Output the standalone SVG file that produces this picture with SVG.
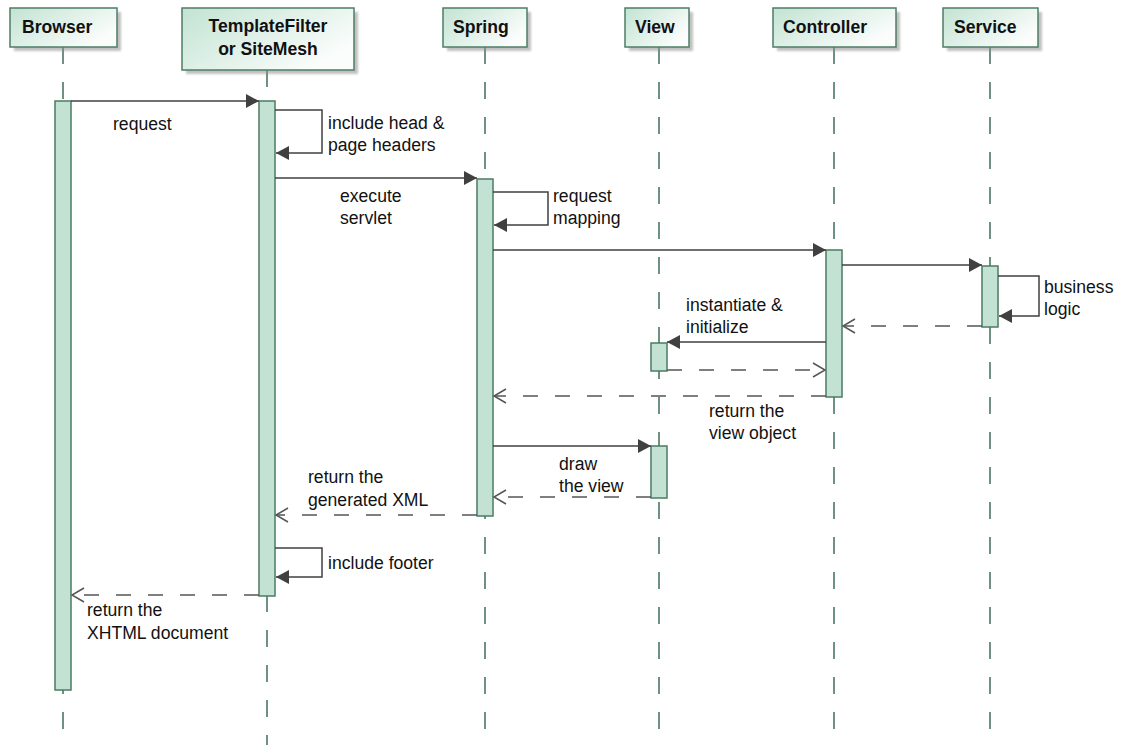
<svg xmlns="http://www.w3.org/2000/svg" width="1124" height="745" viewBox="0 0 1124 745">
<style>
text{font-family:"Liberation Sans",Arial,sans-serif;font-size:17.6px;fill:#111}
.hd{font-weight:bold}
.box{fill:url(#hg);stroke:#4e7d66;stroke-width:1.5}
.shd{fill:#8f8f8f;opacity:.55;filter:url(#bl)}
.life{stroke:#3f6f58;stroke-width:1.5;stroke-dasharray:17 18;fill:none}
.act{fill:#c3e2d3;stroke:#4a7c63;stroke-width:1.5}
.msg{stroke:#404040;stroke-width:1.5;fill:none;marker-end:url(#fa)}
.ret{stroke:#555;stroke-width:1.5;fill:none;stroke-dasharray:15 17;marker-end:url(#oa)}
</style>
<defs>
<linearGradient id="hg" x1="0" y1="0" x2="1" y2="0.6">
<stop offset="0" stop-color="#c2e3d3"/>
<stop offset="1" stop-color="#fbfdfc"/>
</linearGradient>
<filter id="bl" x="-10%" y="-10%" width="120%" height="130%"><feGaussianBlur stdDeviation="1.2"/></filter>
<marker id="fa" markerUnits="userSpaceOnUse" markerWidth="14" markerHeight="14" refX="13" refY="7" orient="auto">
<path d="M0,0 L13,7 L0,14 Z" fill="#404040" stroke="none"/>
</marker>
<marker id="oa" markerUnits="userSpaceOnUse" markerWidth="16" markerHeight="16" refX="13" refY="8" orient="auto">
<path d="M1,1 L13,8 L1,15" fill="none" stroke="#555" stroke-width="1.5" stroke-dasharray="none"/>
</marker>
</defs>
<rect width="1124" height="745" fill="#fff"/>

<g id="browser">
<line class="life" x1="63" y1="47" x2="63" y2="730"/>
<rect class="shd" x="14" y="12" width="107" height="39"/>
<rect class="box" x="10" y="8" width="107" height="39"/>
<text class="hd" x="22" y="33">Browser</text>
<rect class="act" x="55" y="101" width="16" height="589"/>
</g>

<g id="templatefilter">
<line class="life" x1="267" y1="70" x2="267" y2="753"/>
<rect class="shd" x="186" y="12" width="172" height="62"/>
<rect class="box" x="182" y="8" width="172" height="62"/>
<text class="hd" x="268" y="32" text-anchor="middle">TemplateFilter</text>
<text class="hd" x="268" y="55" text-anchor="middle">or SiteMesh</text>
<rect class="act" x="259" y="101" width="16" height="495"/>
</g>

<g id="spring">
<line class="life" x1="485" y1="47" x2="485" y2="730"/>
<rect class="shd" x="447" y="12" width="84" height="39"/>
<rect class="box" x="443" y="8" width="84" height="39"/>
<text class="hd" x="453" y="33">Spring</text>
<rect class="act" x="477" y="179" width="16" height="337"/>
</g>

<g id="view">
<line class="life" x1="659" y1="47" x2="659" y2="730"/>
<rect class="shd" x="629" y="12" width="64" height="39"/>
<rect class="box" x="625" y="8" width="64" height="39"/>
<text class="hd" x="635" y="33">View</text>
<rect class="act" x="651" y="343" width="16" height="28"/>
<rect class="act" x="651" y="446" width="16" height="52"/>
</g>

<g id="controller">
<line class="life" x1="834" y1="47" x2="834" y2="730"/>
<rect class="shd" x="777" y="12" width="123" height="39"/>
<rect class="box" x="773" y="8" width="123" height="39"/>
<text class="hd" x="783" y="33">Controller</text>
<rect class="act" x="826" y="250" width="16" height="147"/>
</g>

<g id="service">
<line class="life" x1="990" y1="47" x2="990" y2="730"/>
<rect class="shd" x="947" y="12" width="95" height="39"/>
<rect class="box" x="943" y="8" width="95" height="39"/>
<text class="hd" x="954" y="33">Service</text>
<rect class="act" x="982" y="266" width="16" height="61"/>
</g>

<g id="connectors">
<line class="msg" x1="71" y1="101" x2="259" y2="101"/>
<text x="113" y="130">request</text>

<polyline class="msg" points="275,110 322,110 322,153 276,153"/>
<text x="328" y="129">include head &amp;</text>
<text x="328" y="151">page headers</text>

<line class="msg" x1="275" y1="178" x2="477" y2="178"/>
<text x="340" y="202">execute</text>
<text x="340" y="224">servlet</text>

<polyline class="msg" points="493,192 548,192 548,225 494,225"/>
<text x="553" y="202">request</text>
<text x="553" y="224">mapping</text>

<line class="msg" x1="493" y1="250" x2="826" y2="250"/>

<line class="msg" x1="842" y1="265" x2="982" y2="265"/>

<polyline class="msg" points="998,276 1039,276 1039,316 999,316"/>
<text x="1044" y="293">business</text>
<text x="1044" y="315">logic</text>

<line class="ret" x1="982" y1="326" x2="843" y2="326"/>

<line class="msg" x1="826" y1="342" x2="667" y2="342"/>
<text x="686" y="311">instantiate &amp;</text>
<text x="686" y="333">initialize</text>

<line class="ret" x1="667" y1="370" x2="825" y2="370"/>

<line class="ret" x1="826" y1="396" x2="494" y2="396"/>
<text x="709" y="417">return the</text>
<text x="709" y="439">view object</text>

<line class="msg" x1="493" y1="446" x2="651" y2="446"/>
<text x="559" y="470">draw</text>
<text x="559" y="492">the view</text>

<line class="ret" x1="651" y1="497" x2="494" y2="497"/>

<line class="ret" x1="477" y1="515" x2="276" y2="515"/>
<text x="308" y="483">return the</text>
<text x="308" y="506">generated XML</text>

<polyline class="msg" points="275,548 322,548 322,577 276,577"/>
<text x="328" y="569">include footer</text>

<line class="ret" x1="259" y1="595" x2="72" y2="595"/>
<text x="87" y="616">return the</text>
<text x="87" y="639">XHTML document</text>
</g>
</svg>
